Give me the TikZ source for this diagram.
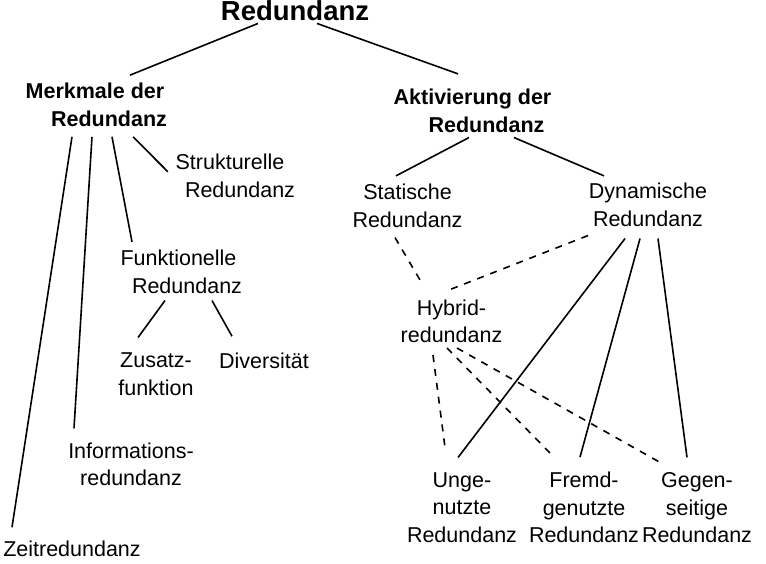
\documentclass[tikz,border=0pt]{standalone}
\usepackage{fontspec}
\setmainfont{Liberation Sans}
\begin{document}
\begin{tikzpicture}[x=1pt,y=-1pt,
	lbl/.style={inner sep=0pt,align=center,font=\fontsize{21.5}{27.5}\selectfont},
	head/.style={lbl,font=\fontsize{21.5}{27.5}\selectfont\bfseries},
	link/.style={line width=1.6pt},
	hlink/.style={link,dash pattern=on 7pt off 7pt}]
	\useasboundingbox (0,0) rectangle (766,564);
		%labels left
			\node[lbl,anchor=base,font=\fontsize{27.5}{33}\selectfont\bfseries] (red) at (295,20.5) {Redundanz};
			\node[head] (merk) at (95,105) {Merkmale der\\\hspace*{28pt}Redundanz};
			\node[lbl] (strukt) at (230,175.7) {Strukturelle\\\hspace*{20pt}Redundanz};
			\node[lbl] (funkt) at (178.5,271.7) {Funktionelle\\\hspace*{17pt}Redundanz};
			\node[lbl] (zusatz) at (156,374) {Zusatz-\\funktion};
			\node[lbl,anchor=base] (divers) at (264,368) {Diversität};
			\node[lbl] (info) at (131,464.2) {Informations-\\redundanz};
			\node[lbl,anchor=base] (zeit) at (72,556) {Zeitredundanz};
		%labels right
			\node[head] (aktiv) at (472.5,110.7) {Aktivierung der\\\hspace*{28pt}Redundanz};
			\node[lbl] (stat) at (407.5,205.7) {Statische\\Redundanz};
			\node[lbl] (dyn) at (648,204.7) {Dynamische\\Redundanz};
			\node[lbl] (hybrid) at (451.5,321.2) {Hybrid-\\redundanz};
			\node[lbl] (unge) at (462,507.7) {Unge-\\nutzte\\Redundanz};
			\node[lbl] (fremd) at (584,507.7) {Fremd-\\genutzte\\Redundanz};
			\node[lbl] (gegen) at (697,507.7) {Gegen-\\seitige\\Redundanz};
		%tree lines
			\draw[link] ([xshift=-37pt,yshift=-2.5pt]red.south) -- ([xshift=35pt,yshift=8pt]merk.north);
			\draw[link] ([xshift=22pt,yshift=-2.5pt]red.south) -- ([xshift=-14.5pt,yshift=15pt]aktiv.north);
			\draw[link] ([xshift=-23pt,yshift=-10pt]merk.south) -- ([xshift=-60pt,yshift=13pt]zeit.north);
			\draw[link] ([xshift=-3pt,yshift=-10pt]merk.south) -- ([xshift=-57pt,yshift=14pt]info.north);
			\draw[link] ([xshift=17pt,yshift=-10pt]merk.south) -- ([xshift=-46.5pt,yshift=8pt]funkt.north);
			\draw[link] ([xshift=38pt,yshift=-10pt]merk.south) -- ([xshift=3pt,yshift=4pt]strukt.west);
			\draw[link] ([xshift=-13.5pt,yshift=-7pt]funkt.south) -- ([xshift=-18pt,yshift=15pt]zusatz.north);
			\draw[link] ([xshift=33.5pt,yshift=-7pt]funkt.south) -- ([xshift=-32pt,yshift=16pt]divers.north);
			\draw[link] ([xshift=-3.5pt,yshift=-5pt]aktiv.south) -- ([xshift=-11.5pt,yshift=8pt]stat.north);
			\draw[link] ([xshift=41.5pt,yshift=-5pt]aktiv.south) -- ([xshift=-44pt,yshift=7pt]dyn.north);
			\draw[link] ([xshift=-23pt,yshift=-12pt]dyn.south) -- ([xshift=-4pt,yshift=15pt]unge.north);
			\draw[link] ([xshift=-8pt,yshift=-12pt]dyn.south) -- ([xshift=-4pt,yshift=15pt]fremd.north);
			\draw[link] ([xshift=10pt,yshift=-12pt]dyn.south) -- ([xshift=-10pt,yshift=15pt]gegen.north);
		%hybrid (dashed)
			\draw[hlink] ([xshift=-12.5pt,yshift=-10pt]stat.south) -- ([xshift=-29.5pt,yshift=16pt]hybrid.north);
			\draw[hlink] ([xshift=-60pt,yshift=-9pt]dyn.south) -- ([xshift=-3.5pt,yshift=9pt]hybrid.north);
			\draw[hlink] ([xshift=-18.5pt,yshift=-12pt]hybrid.south) -- ([xshift=-17pt,yshift=25pt]unge.north);
			\draw[hlink] ([xshift=-4.5pt,yshift=-5pt]hybrid.south) -- ([xshift=-31pt,yshift=16pt]fremd.north);
			\draw[hlink] ([xshift=5.5pt,yshift=-5pt]hybrid.south) -- ([xshift=-37pt,yshift=10pt]gegen.north);
	\end{tikzpicture}
\end{document}
